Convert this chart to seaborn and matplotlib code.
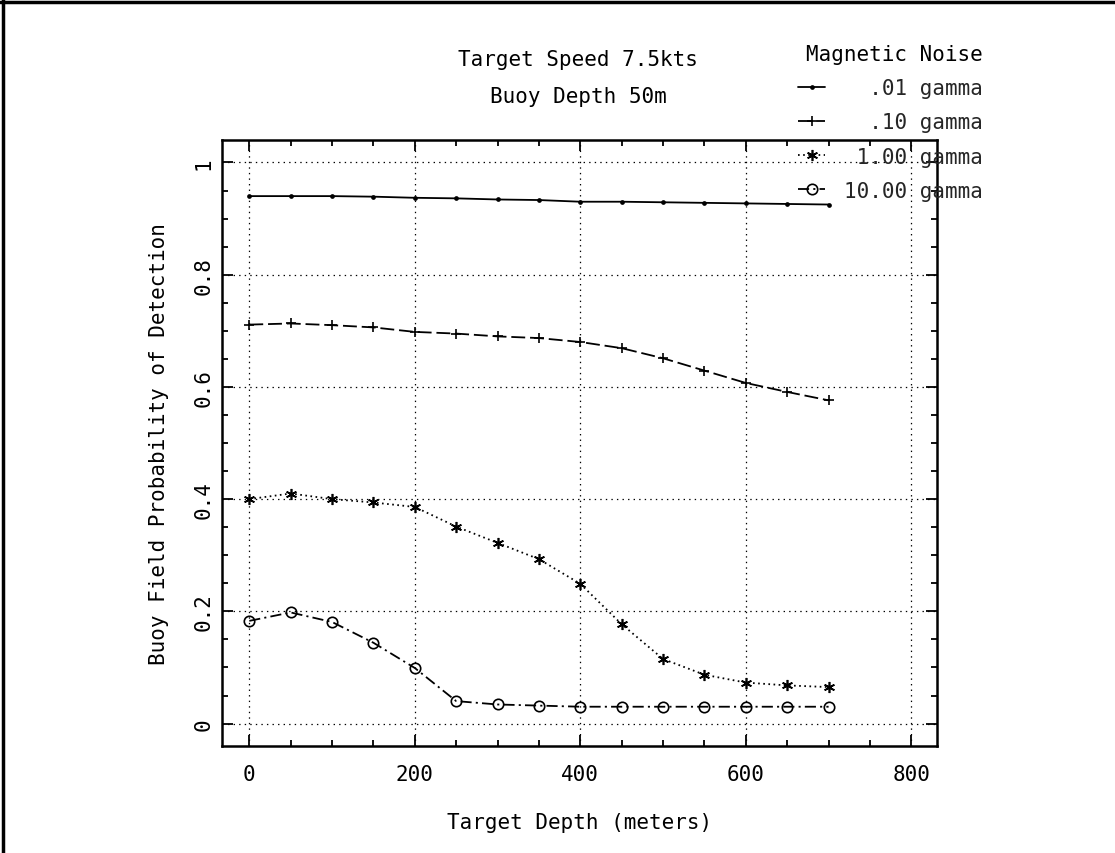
import matplotlib
matplotlib.use("Agg")
import matplotlib.pyplot as plt
import seaborn as sns
from matplotlib.ticker import MultipleLocator, FuncFormatter
from matplotlib.lines import Line2D

# ---- data ----
depth = [0, 50, 100, 150, 200, 250, 300, 350, 400, 450, 500, 550, 600, 650, 700]
p_001 = [0.940, 0.940, 0.940, 0.939, 0.937, 0.936, 0.934, 0.933, 0.930, 0.930, 0.929, 0.928, 0.927, 0.926, 0.925]
p_010 = [0.711, 0.713, 0.710, 0.706, 0.698, 0.695, 0.690, 0.687, 0.680, 0.669, 0.651, 0.629, 0.607, 0.591, 0.576]
p_100 = [0.400, 0.410, 0.400, 0.394, 0.386, 0.351, 0.322, 0.293, 0.249, 0.177, 0.115, 0.087, 0.073, 0.068, 0.065]
p_1000 = [0.183, 0.198, 0.181, 0.144, 0.099, 0.040, 0.034, 0.032, 0.030, 0.030, 0.030, 0.030, 0.030, 0.030, 0.030]
series_labels = ["  .01 gamma", "  .10 gamma", " 1.00 gamma", "10.00 gamma"]
x_ticks = [0, 200, 400, 600, 800]
y_ticks = [0, 0.2, 0.4, 0.6, 0.8, 1.0]

sns.set_theme(style="ticks")
plt.rcParams["font.family"] = ["DejaVu Sans Mono"]
plt.rcParams["lines.scale_dashes"] = False
FS = 15

W, H = 1115, 854
fig = plt.figure(figsize=(W / 100, H / 100), dpi=100)
fig.patch.set_facecolor("white")
ax = fig.add_axes([222 / W, 1 - 747 / H, (937 - 222) / W, (747 - 141) / H])
ax.set_facecolor("white")

styles = [
    dict(linestyle="-", marker="o", markersize=2.2, markerfacecolor="black"),
    dict(linestyle=(0, (10, 3.5)), marker="+", markersize=7, markerfacecolor="black"),
    dict(linestyle=(0, (1.2, 2.5)), marker=(6, 2, 0), markersize=8, markerfacecolor="black"),
    dict(linestyle=(0, (8, 3, 1.5, 3)), marker="o", markersize=7.5, markerfacecolor="none"),
]
for vals, st in zip([p_001, p_010, p_100, p_1000], styles):
    sns.lineplot(x=depth, y=vals, ax=ax, color="black", linewidth=1.3,
                 markeredgecolor="black", markeredgewidth=1.2, legend=False, **st)

ax.set_xlim(-33, 831)
ax.set_ylim(-0.04, 1.04)
ax.set_xticks(x_ticks)
ax.set_yticks(y_ticks)
ax.xaxis.set_minor_locator(MultipleLocator(50))
ax.yaxis.set_minor_locator(MultipleLocator(0.05))
ax.yaxis.set_major_formatter(FuncFormatter(lambda v, p: "0" if abs(v) < 1e-9 else ("1" if abs(v - 1) < 1e-9 else f"{v:.1f}")))
ax.tick_params(which="both", direction="in", top=True, right=True, color="black", width=1.3)
ax.tick_params(which="major", length=8, labelsize=FS, labelcolor="black")
ax.tick_params(which="minor", length=4.5)
ax.tick_params(axis="x", pad=13)
ax.tick_params(axis="y", labelrotation=90, pad=6)
plt.setp(ax.get_yticklabels(), va="center")
ax.grid(True, which="major", color="black", linestyle=(0, (1, 3)), linewidth=0.9)
for s in ax.spines.values():
    s.set_color("black")
    s.set_linewidth(1.8)

ax.set_xlabel("Target Depth (meters)", fontsize=FS, color="black", labelpad=20)
ax.set_ylabel("Buoy Field Probability of Detection", fontsize=FS, color="black", labelpad=18)

fig.text(578 / W, 1 - 60 / H, "Target Speed 7.5kts", fontsize=FS, ha="center", va="center", color="black")
fig.text(578 / W, 1 - 97 / H, "Buoy Depth 50m", fontsize=FS, ha="center", va="center", color="black")

leg = fig.legend(handles=ax.lines[:4], labels=series_labels, title="Magnetic Noise",
                 loc="upper left", bbox_to_anchor=(798 / W, 1 - 45 / H),
                 frameon=False, numpoints=1, handlelength=1.3, handletextpad=0.9,
                 labelspacing=0.68, borderaxespad=0, borderpad=0, fontsize=FS,
                 title_fontsize=FS, alignment="right")
leg.get_title().set_color("black")

# scanned page border (left and top)
fig.add_artist(Line2D([3 / W, 3 / W], [0, 1], transform=fig.transFigure, color="black", linewidth=2.5))
fig.add_artist(Line2D([0, 1], [1 - 3 / H, 1 - 3 / H], transform=fig.transFigure, color="black", linewidth=2.5))

fig.savefig("out.png", dpi=100, facecolor="white")
